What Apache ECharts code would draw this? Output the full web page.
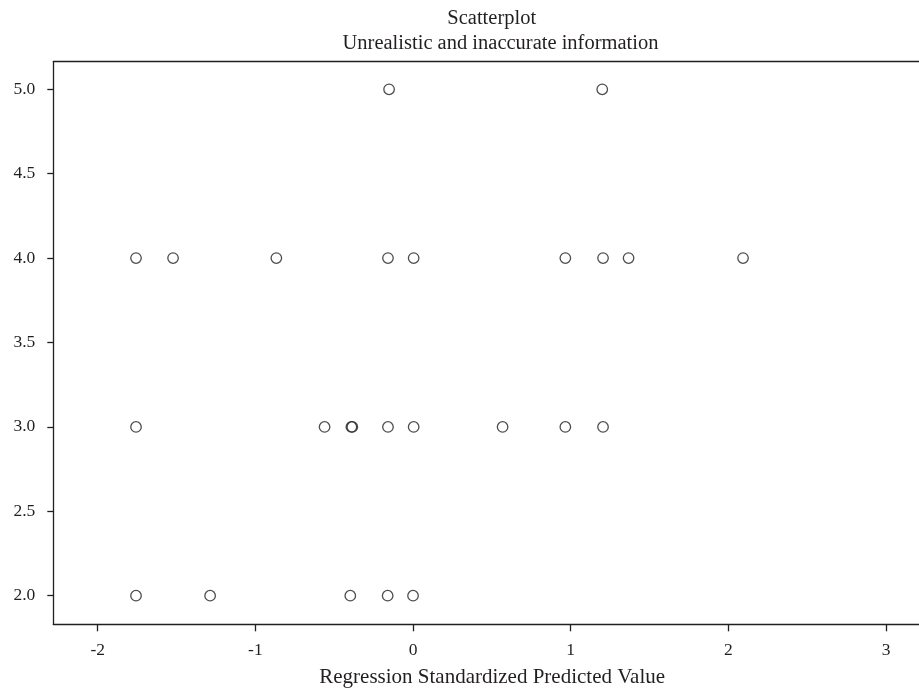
<!DOCTYPE html>
<html>
<head>
<meta charset="utf-8">
<script src="https://cdn.jsdelivr.net/npm/echarts@6/dist/echarts.min.js"></script>
<style>
html,body{margin:0;padding:0;background:#fff;}
#chart{width:919px;height:688px;}
</style>
</head>
<body>
<div id="chart"></div>
<script>
var titleLine1 = 'Scatterplot';
var titleLine2 = 'Unrealistic and inaccurate information';
var xAxisName = 'Regression Standardized Predicted Value';
var xTicks = [-2, -1, 0, 1, 2, 3];
var yTicks = [2.0, 2.5, 3.0, 3.5, 4.0, 4.5, 5.0];
var predictedValues = [
  -0.152, 1.200,
  -1.757, -1.522, -0.867, -0.159, 0.004, 0.966, 1.205, 1.367, 2.093,
  -1.757, -0.561, -0.391, -0.385, -0.159, 0.004, 0.568, 0.966, 1.205,
  -1.757, -1.287, -0.398, -0.161, 0.000
];
var observedValues = [
  5, 5,
  4, 4, 4, 4, 4, 4, 4, 4, 4,
  3, 3, 3, 3, 3, 3, 3, 3, 3,
  2, 2, 2, 2, 2
];
var points = predictedValues.map(function (x, i) { return [x, observedValues[i]]; });

var font = 'Liberation Serif';
var ink = '#231f20';
var chart = echarts.init(document.getElementById('chart'));
chart.setOption({
  animation: false,
  backgroundColor: '#fff',
  title: [
    { text: titleLine1, left: 491.7, textAlign: 'center', top: 8, padding: 0,
      textStyle: { fontFamily: font, fontSize: 20.5, fontWeight: 'normal', color: ink } },
    { text: titleLine2, left: 500.5, textAlign: 'center', top: 33, padding: 0,
      textStyle: { fontFamily: font, fontSize: 20.5, fontWeight: 'normal', color: ink } }
  ],
  grid: { left: 53.3, top: 61.7, right: 0, bottom: 63.7, containLabel: false, outerBoundsMode: 'none' },
  xAxis: [{
    type: 'value', min: -2.2816, max: 3.209, position: 'bottom',
    name: xAxisName, nameLocation: 'middle', nameGap: 43,
    nameTextStyle: { fontFamily: font, fontSize: 21, color: ink, padding: [0, 0, 0, 12] },
    axisLine: { show: true, onZero: false, lineStyle: { color: ink, width: 1.3 } },
    axisTick: { show: true, length: 7, customValues: xTicks, lineStyle: { color: ink, width: 1.3 } },
    axisLabel: { customValues: xTicks, margin: 17, fontFamily: font, fontSize: 17.5, color: ink },
    splitLine: { show: false }
  }, {
    type: 'value', min: -2.2816, max: 3.209, position: 'top',
    axisLine: { show: true, onZero: false, lineStyle: { color: ink, width: 1.3 } },
    axisTick: { show: false }, axisLabel: { show: false }, splitLine: { show: false }
  }],
  yAxis: {
    type: 'value', min: 1.8305, max: 5.1635,
    axisLine: { show: true, onZero: false, lineStyle: { color: ink, width: 1.3 } },
    axisTick: { show: true, length: 6, customValues: yTicks, lineStyle: { color: ink, width: 1.3 } },
    axisLabel: { customValues: yTicks, margin: 18, fontFamily: font, fontSize: 17.5, color: ink,
      formatter: function (v) { return Number(v).toFixed(1); } },
    splitLine: { show: false }
  },
  series: [{
    type: 'scatter',
    xAxisIndex: 0,
    data: points,
    symbol: 'circle',
    symbolSize: 10.5,
    itemStyle: { color: 'rgba(255,255,255,0)', borderColor: ink, borderWidth: 1.3 }
  }]
});
</script>
</body>
</html>
